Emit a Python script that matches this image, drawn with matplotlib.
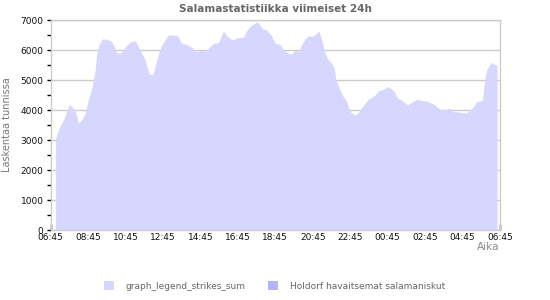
import matplotlib
matplotlib.use("Agg")
import matplotlib.pyplot as plt
from matplotlib.patches import Patch
from matplotlib.ticker import MultipleLocator

# ---- data (hours after 06:45, strike counts per hour) ----
hours = [0.26, 0.33, 0.42, 0.54, 0.69, 0.83, 1.00, 1.13, 1.31, 1.49, 1.66, 1.81, 1.93,
         2.07, 2.20, 2.29, 2.38, 2.47, 2.59, 2.77, 3.00, 3.21, 3.36, 3.53, 3.71, 3.89,
         4.03, 4.25, 4.51, 4.69, 4.87, 5.05, 5.17, 5.28, 5.46, 5.58, 5.72, 5.90, 6.11,
         6.29, 6.56, 6.79, 7.00, 7.27, 7.54, 7.80, 7.98, 8.16, 8.28, 8.52, 8.69, 8.96,
         9.10, 9.23, 9.41, 9.58, 9.76, 9.94, 10.12, 10.30, 10.47, 10.65, 10.83, 11.04,
         11.19, 11.33, 11.54, 11.77, 11.99, 12.25, 12.43, 12.70, 12.88, 13.05, 13.23,
         13.41, 13.59, 13.77, 14.03, 14.25, 14.34, 14.48, 14.66, 14.83, 15.01, 15.14,
         15.24, 15.42, 15.60, 15.78, 15.90, 16.04, 16.26, 16.44, 16.61, 16.79, 16.97,
         17.15, 17.33, 17.50, 17.68, 17.86, 18.00, 18.18, 18.36, 18.54, 18.75, 18.93,
         19.07, 19.25, 19.43, 19.59, 19.82, 20.08, 20.35, 20.53, 20.80, 21.03, 21.19,
         21.33, 21.51, 21.77, 21.95, 22.22, 22.40, 22.58, 22.75, 22.97, 23.06, 23.11,
         23.20, 23.29, 23.38, 23.52, 23.70, 23.84]
strikes = [3060, 3170, 3330, 3500, 3670, 3890, 4190, 4110, 4000, 3560, 3670, 3830, 4110,
           4440, 4720, 5000, 5330, 5890, 6170, 6370, 6360, 6310, 6170, 5910, 5890, 6000,
           6130, 6260, 6310, 6110, 5890, 5670, 5390, 5200, 5170, 5440, 5780, 6110, 6330,
           6500, 6500, 6470, 6220, 6190, 6090, 5940, 5980, 6000, 5940, 6110, 6220, 6240,
           6440, 6640, 6470, 6390, 6330, 6410, 6410, 6420, 6640, 6780, 6870, 6940,
           6830, 6700, 6670, 6500, 6220, 6190, 6020, 5890, 5860, 6000, 5940,
           6170, 6360, 6470, 6470, 6580, 6630, 6330, 5890, 5670, 5560, 5390,
           5000, 4720, 4470, 4330, 4110, 3920, 3830, 3910, 4080, 4220, 4360,
           4420, 4500, 4640, 4670, 4710, 4780, 4720, 4610, 4390, 4330, 4240,
           4170, 4240, 4310, 4360, 4310, 4300, 4220, 4170, 4020, 4000, 4030,
           4060, 3940, 3940, 3910, 3910, 4000, 4110, 4280, 4300, 4330, 4610,
           5110, 5330, 5440, 5590, 5520, 5500]
tick_labels = ["06:45", "08:45", "10:45", "12:45", "14:45", "16:45", "18:45",
               "20:45", "22:45", "00:45", "02:45", "04:45", "06:45"]
legend_labels = ["graph_legend_strikes_sum", "Holdorf havaitsemat salamaniskut"]

fill_color = "#d6d6ff"
second_color = "#b4b4ff"
grid_color = "#cccccc"

W, H = 550, 300
fig = plt.figure(figsize=(5.5, 3.0), dpi=100)
left, right, top, bottom = 50.5, 500, 20, 230
ax = fig.add_axes([left / W, 1 - bottom / H, (right - left) / W, (bottom - top) / H])

ax.fill_between(hours, strikes, 0, color=fill_color, linewidth=0, zorder=2)

ax.set_xlim(0, 24)
ax.set_ylim(0, 7000)

ax.set_xticks(range(0, 25, 2))
ax.set_xticklabels(tick_labels)
ax.xaxis.set_minor_locator(MultipleLocator(0.5))
ax.yaxis.set_major_locator(MultipleLocator(1000))
ax.yaxis.set_minor_locator(MultipleLocator(500))

ax.tick_params(axis="x", which="major", direction="in", length=4, width=1,
               color="#000000", labelsize=6.5, pad=2, labelcolor="#111111")
ax.tick_params(axis="x", which="minor", direction="in", length=2.3, width=0.9,
               color="#000000")
ax.tick_params(axis="y", which="both", direction="out", length=3, width=1,
               color="#000000", labelsize=6.5, pad=2, labelcolor="#111111")

ax.grid(axis="y", which="major", color=grid_color, linewidth=1, zorder=1)
ax.set_axisbelow(True)
for s in ax.spines.values():
    s.set_color(grid_color)
    s.set_linewidth(1)
    s.set_zorder(3)

ax.set_ylabel("Laskentaa tunnissa", fontsize=7, color="#777777", labelpad=6)

fig.text(275 / W, 1 - 9 / H, "Salamastatistiikka viimeiset 24h", ha="center",
         va="center", fontsize=7.5, fontweight="bold", color="#666666")
fig.text(499 / W, 1 - 247 / H, "Aika", ha="right", va="center", fontsize=7.5,
         color="#888888")

handles = [Patch(facecolor=fill_color, edgecolor="none"),
           Patch(facecolor=second_color, edgecolor="none")]
fig.legend(handles, legend_labels, loc="center", bbox_to_anchor=(274.5 / W, 1 - 286 / H),
           ncol=2, frameon=False, fontsize=6.5, labelcolor="#666666",
           handlelength=1.1, handleheight=1.1, handletextpad=1.3, columnspacing=2.5)

fig.savefig("out.png", dpi=100)
